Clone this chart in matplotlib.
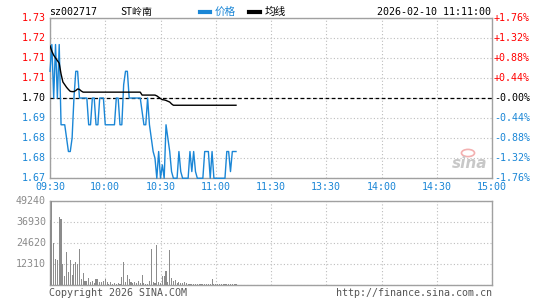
import matplotlib
matplotlib.use("Agg")
import matplotlib.pyplot as plt
import matplotlib.transforms as mtrans
import numpy as np

# ---------------- data ----------------
prev_close = 1.70
price = [1.71, 1.72, 1.70, 1.72, 1.70, 1.72, 1.69, 1.69, 1.69, 1.685,
         1.68, 1.68, 1.685, 1.70, 1.71, 1.71, 1.70, 1.70, 1.70, 1.70,
         1.70, 1.69, 1.69, 1.70, 1.70, 1.69, 1.69, 1.70, 1.70, 1.70,
         1.69, 1.69, 1.69, 1.69, 1.69, 1.69, 1.70, 1.70, 1.69, 1.69,
         1.705, 1.71, 1.71, 1.70, 1.70, 1.70, 1.70, 1.70, 1.70, 1.70,
         1.695, 1.69, 1.69, 1.70, 1.69, 1.685, 1.68, 1.6775, 1.67, 1.68,
         1.67, 1.675, 1.67, 1.69, 1.685, 1.68, 1.6725, 1.67, 1.67, 1.67,
         1.68, 1.6725, 1.67, 1.67, 1.67, 1.67, 1.68, 1.6725, 1.68, 1.6725,
         1.67, 1.67, 1.67, 1.67, 1.68, 1.68, 1.68, 1.67, 1.68, 1.67,
         1.67, 1.67, 1.67, 1.67, 1.67, 1.67, 1.68, 1.68, 1.6725, 1.68,
         1.68, 1.68]
avg_price = [1.7195, 1.7175, 1.716, 1.715, 1.714, 1.713, 1.709, 1.706, 1.705, 1.704,
             1.7032, 1.7025, 1.7024, 1.7024, 1.7028, 1.7034, 1.7032, 1.7026, 1.7022, 1.7022,
             1.7022, 1.7022, 1.7022, 1.7022, 1.7022, 1.7022, 1.7022, 1.7022, 1.7022, 1.7022,
             1.7022, 1.7022, 1.7022, 1.7022, 1.7022, 1.7022, 1.7022, 1.7022, 1.7022, 1.7022,
             1.7022, 1.7022, 1.7022, 1.7022, 1.7022, 1.7022, 1.7022, 1.7022, 1.7022, 1.7022,
             1.7011, 1.7011, 1.7011, 1.7011, 1.7011, 1.7011, 1.7011, 1.7011, 1.7008, 1.7003,
             1.6998, 1.6994, 1.6993, 1.6991, 1.6988, 1.6985, 1.6978, 1.6973, 1.6973, 1.6973,
             1.6973, 1.6973, 1.6973, 1.6973, 1.6973, 1.6973, 1.6973, 1.6973, 1.6973, 1.6973,
             1.6973, 1.6973, 1.6973, 1.6973, 1.6973, 1.6973, 1.6973, 1.6973, 1.6973, 1.6973,
             1.6973, 1.6973, 1.6973, 1.6973, 1.6973, 1.6973, 1.6973, 1.6973, 1.6973, 1.6973,
             1.6973, 1.6973]
volume = [38100, 55000, 24400, 15400, 14700, 40000, 38500, 12100, 5300, 19150,
          7800, 14650, 5860, 12100, 13680, 12100, 21100, 3500, 6840, 2340,
          2340, 3900, 1560, 2340, 980, 3500, 3500, 1560, 2000, 2340,
          3500, 1560, 400, 2000, 400, 980, 400, 1100, 400, 4690,
          13680, 1560, 5860, 3500, 1560, 980, 2000, 980, 2340, 980,
          5860, 980, 400, 400, 2300, 21100, 1500, 980, 23400, 1560,
          980, 5300, 5300, 8200, 1560, 20500, 4300, 2300, 2900, 980,
          1560, 980, 980, 1560, 980, 600, 500, 600, 400, 500,
          600, 400, 500, 600, 400, 500, 600, 500, 3500, 600,
          500, 400, 600, 500, 400, 600, 500, 400, 600, 500,
          400, 500]
price_ticks = [1.6701, 1.67758, 1.68506, 1.69254, 1.70, 1.70748, 1.71496, 1.72244, 1.72992]
price_labels = ["1.67", "1.68", "1.68", "1.69", "1.70", "1.71", "1.71", "1.72", "1.73"]
pct_labels = ["-1.76%", "-1.32%", "-0.88%", "-0.44%", "-0.00%", "+0.44%", "+0.88%", "+1.32%", "+1.76%"]
time_ticks = [0, 30, 60, 90, 120, 150, 180, 210, 240]
time_labels = ["09:30", "10:00", "10:30", "11:00", "11:30", "13:30", "14:00", "14:30", "15:00"]
vol_ticks = [0, 12310, 24620, 36930, 49240]
vol_labels = ["", "12310", "24620", "36930", "49240"]

# ---------------- style ----------------
W, H = 545, 300
RED = "#ff0000"
BLUE = "#1a86d6"
GRID = "#bdbdbd"
FRAME = "#a0a0a0"
MONO = "DejaVu Sans Mono"
FS = 7.2

fig = plt.figure(figsize=(W / 100, H / 100), dpi=100)
fig.patch.set_facecolor("white")

def fx(px):
    return px / W

def fy(py):
    return 1 - py / H

L, R = 50, 492
ax = fig.add_axes([fx(L), fy(178), fx(R - L), (178 - 18) / H])
axv = fig.add_axes([fx(L), fy(285), fx(R - L), (285 - 201) / H])

for a in (ax, axv):
    a.set_xlim(0, 240)
    for s in a.spines.values():
        s.set_color(FRAME)
        s.set_linewidth(1.0)
    a.tick_params(length=0, labelleft=False, labelbottom=False)
    a.set_xticks(time_ticks)
    a.grid(True, color=GRID, linestyle=(0, (1, 2)), linewidth=0.8)
    a.set_axisbelow(True)

ax.set_ylim(price_ticks[0], price_ticks[-1])
ax.set_yticks(price_ticks)
axv.set_ylim(0, vol_ticks[-1])
axv.set_yticks(vol_ticks)

x = np.arange(len(price))
ax.axhline(prev_close, color="black", linestyle=(0, (3, 2)), linewidth=0.9, zorder=3)
ax.plot(x, price, color=BLUE, linewidth=1.0, zorder=4, clip_on=False)
ax.plot(x, avg_price, color="black", linewidth=1.0, zorder=5)

axv.bar(np.arange(len(volume)), volume, width=0.6, color="#8c8c8c", zorder=3)

tr_p = mtrans.blended_transform_factory(fig.transFigure, ax.transData)
tr_v = mtrans.blended_transform_factory(fig.transFigure, axv.transData)
tr_t = mtrans.blended_transform_factory(ax.transData, fig.transFigure)

# price labels
for t, lab, pl in zip(price_ticks, price_labels, pct_labels):
    col = RED if t > prev_close + 1e-6 else ("black" if abs(t - prev_close) < 1e-6 else BLUE)
    fig.text(fx(46), t, lab, ha="right", va="center", color=col, fontsize=FS, family=MONO, transform=tr_p)
    fig.text(fx(494), t, pl, ha="left", va="center", color=col, fontsize=FS, family=MONO, transform=tr_p)

# time labels
for t, lab in zip(time_ticks, time_labels):
    fig.text(t, fy(187), lab, ha="center", va="center", color=BLUE, fontsize=FS, family=MONO, transform=tr_t)

# volume labels
for t, lab in zip(vol_ticks, vol_labels):
    if lab:
        fig.text(fx(46), t, lab, ha="right", va="center", color="#8a8a8a", fontsize=FS, family=MONO,
                 transform=tr_v)

# header
fig.text(fx(49), fy(12), "sz002717", ha="left", va="center", color="black", fontsize=FS, family=MONO)
fig.text(fx(120), fy(12), "ST岭南", ha="left", va="center", color="black", fontsize=FS,
         family=["Noto Sans CJK SC", "DejaVu Sans"])
fig.add_artist(plt.Line2D([fx(200), fx(210)], [fy(12), fy(12)], color=BLUE, linewidth=3))
fig.text(fx(215), fy(12), "价格", ha="left", va="center", color=BLUE, fontsize=FS + 0.5,
         family=["Noto Sans CJK SC", "DejaVu Sans"])
fig.add_artist(plt.Line2D([fx(249), fx(260)], [fy(12), fy(12)], color="black", linewidth=3))
fig.text(fx(265), fy(12), "均线", ha="left", va="center", color="black", fontsize=FS + 0.5,
         family=["Noto Sans CJK SC", "DejaVu Sans"])
fig.text(fx(491), fy(12), "2026-02-10 11:11:00", ha="right", va="center", color="black",
         fontsize=FS, family=MONO)

# footer
fig.text(fx(49), fy(293), "Copyright 2026 SINA.COM", ha="left", va="center", color="#555555",
         fontsize=FS, family=MONO)
fig.text(fx(492), fy(293), "http://finance.sina.com.cn", ha="right", va="center", color="#555555",
         fontsize=FS, family=MONO)

# watermark
fig.text(fx(470), fy(164), "sina", ha="center", va="center", color="#c8c8c8", fontsize=11,
         fontweight="bold", style="italic", family="DejaVu Sans")
fig.add_artist(plt.Circle((fx(468), fy(153)), 0.012, transform=fig.transFigure,
                          color="#f3b0b0", fill=False, linewidth=1.2))

fig.savefig("out.png", dpi=100, facecolor="white")
